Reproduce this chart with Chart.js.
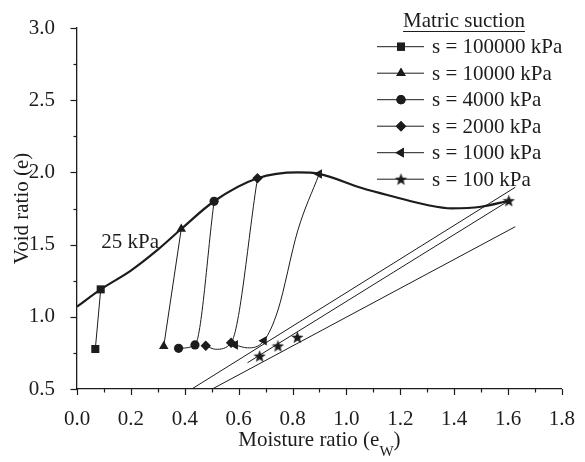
<!DOCTYPE html>
<html>
<head>
<meta charset="utf-8">
<script src="https://cdn.jsdelivr.net/npm/chart.js@4.4.1/dist/chart.umd.min.js"></script>
<style>
  body { margin: 0; background: #fff; }
</style>
</head>
<body>
<canvas id="myChart" width="585" height="462"></canvas>
<script>
// ---------- data (moisture ratio ew, void ratio e) ----------

const suctionLabels = ["s = 100000 kPa", "s = 10000 kPa", "s = 4000 kPa", "s = 2000 kPa", "s = 1000 kPa", "s = 100 kPa"];

// 25 kPa curve
const curve25Ew = [0, 0.088, 0.2, 0.3, 0.387, 0.509, 0.67, 0.82, 0.899, 1.06, 1.18, 1.30, 1.39, 1.50, 1.603];
const curve25E = [1.07, 1.19, 1.32, 1.465, 1.608, 1.80, 1.959, 2.0, 1.99, 1.89, 1.83, 1.774, 1.751, 1.762, 1.804];

// measured points
const sqEw = [0.068, 0.088];
const sqE = [0.777, 1.19];
const triEw = [0.322, 0.387];
const triE = [0.796, 1.608];
const circEw = [0.377, 0.438, 0.509];
const circE = [0.782, 0.805, 1.80];
const diaEw = [0.478, 0.572, 0.67];
const diaE = [0.80, 0.82, 1.959];
const leftEw = [0.587, 0.694, 0.899];
const leftE = [0.805, 0.834, 1.989];
const starEw = [0.678, 0.746, 0.818, 1.603];
const starE = [0.728, 0.798, 0.858, 1.804];

// connecting paths
const diaPathEw = [0.478, 0.515, 0.572, 0.67];
const diaPathE = [0.80, 0.775, 0.82, 1.959];
const leftPathEw = [0.587, 0.633, 0.694, 0.745, 0.82, 0.899];
const leftPathE = [0.805, 0.785, 0.834, 1.04, 1.60, 1.989];

// straight lines
const upperLineEw = [0.426, 1.627];
const upperLineE = [0.5, 1.897];
const midLineEw = [0.633, 1.603];
const midLineE = [0.682, 1.804];
const satLineEw = [0.502, 1.627];
const satLineE = [0.5, 1.624];

// axis ticks
const xTicks = [0, 0.2, 0.4, 0.6, 0.8, 1.0, 1.2, 1.4, 1.6, 1.8];
const yTicks = [0.5, 1.0, 1.5, 2.0, 2.5, 3.0];

// ---------- helpers ----------

const INK = "#1c1c1c";
const FONT = "'Liberation Serif', 'Times New Roman', serif";

function pts(xs, ys) {
  return xs.map((x, i) => ({ x: x, y: ys[i] }));
}

// filled five point star for the 100 kPa marker
function makeStar(size) {
  const c = document.createElement("canvas");
  c.width = size;
  c.height = size;
  const g = c.getContext("2d");
  const R = size / 2;
  const r = R * 0.42;
  g.fillStyle = INK;
  g.beginPath();
  for (let i = 0; i < 10; i++) {
    const rad = i % 2 === 0 ? R : r;
    const a = -Math.PI / 2 + (i * Math.PI) / 5;
    const px = R + rad * Math.cos(a);
    const py = R + 0.5 + rad * Math.sin(a);
    if (i === 0) g.moveTo(px, py);
    else g.lineTo(px, py);
  }
  g.closePath();
  g.fill();
  return c;
}

const starImg = makeStar(13);

const markerStyles = [
  { pointStyle: "rect", radius: 5.7, rotation: 0 },
  { pointStyle: "triangle", radius: 5.5, rotation: 0 },
  { pointStyle: "circle", radius: 4.6, rotation: 0 },
  { pointStyle: "rectRot", radius: 5.2, rotation: 0 },
  { pointStyle: "triangle", radius: 5.6, rotation: 270 },
  { pointStyle: starImg, radius: 6, rotation: 0 },
];

function pathSet(xs, ys, width, smooth) {
  const ds = {
    data: pts(xs, ys),
    showLine: true,
    borderColor: INK,
    borderWidth: width,
    pointRadius: 0,
    tension: 0,
    fill: false,
  };
  if (smooth) ds.cubicInterpolationMode = "monotone";
  return ds;
}

function markerSet(xs, ys, k) {
  const m = markerStyles[k];
  return {
    data: pts(xs, ys),
    showLine: false,
    pointStyle: m.pointStyle,
    pointRadius: m.radius,
    rotation: m.rotation,
    backgroundColor: INK,
    borderColor: INK,
    borderWidth: 0,
  };
}

const datasets = [
  pathSet(upperLineEw, upperLineE, 1, false),
  pathSet(midLineEw, midLineE, 1, false),
  pathSet(satLineEw, satLineE, 1, false),
  pathSet(sqEw, sqE, 1, false),
  pathSet(triEw, triE, 1, false),
  pathSet(circEw, circE, 1, true),
  pathSet(diaPathEw, diaPathE, 1, true),
  pathSet(leftPathEw, leftPathE, 1, true),
  pathSet(curve25Ew, curve25E, 2.2, true),
  markerSet(sqEw, sqE, 0),
  markerSet(triEw, triE, 1),
  markerSet(circEw, circE, 2),
  markerSet(diaEw, diaE, 3),
  markerSet(leftEw, leftE, 4),
  markerSet(starEw, starE, 5),
];

// ---------- plugin: ticks, x title, legend, label ----------

const decorPlugin = {
  id: "decor",
  afterDraw(chart) {
    const ctx = chart.ctx;
    const xs = chart.scales.x;
    const ys = chart.scales.y;
    const area = chart.chartArea;
    ctx.save();
    ctx.strokeStyle = INK;
    ctx.fillStyle = INK;
    ctx.lineWidth = 1.2;

    // x ticks (major + minor)
    for (let i = 0; i <= 18; i++) {
      const v = i / 10;
      const px = Math.round(xs.getPixelForValue(v)) + 0.5;
      const len = i % 2 === 0 ? 6 : 3.5;
      ctx.beginPath();
      ctx.moveTo(px, area.bottom);
      ctx.lineTo(px, area.bottom + len);
      ctx.stroke();
    }
    // y ticks
    for (let i = 0; i <= 10; i++) {
      const v = 0.5 + i * 0.25;
      const py = Math.round(ys.getPixelForValue(v)) + 0.5;
      const len = i % 2 === 0 ? 6.5 : 3.5;
      ctx.beginPath();
      ctx.moveTo(area.left, py);
      ctx.lineTo(area.left - len, py);
      ctx.stroke();
    }

    // x title with subscript
    const main = "Moisture ratio (e";
    const sub = "W";
    const close = ")";
    ctx.font = "21px " + FONT;
    const wMain = ctx.measureText(main).width;
    const wClose = ctx.measureText(close).width;
    ctx.font = "15px " + FONT;
    const wSub = ctx.measureText(sub).width;
    const cx = (area.left + area.right) / 2;
    let tx = cx - (wMain + wSub + wClose) / 2;
    ctx.textAlign = "left";
    ctx.textBaseline = "alphabetic";
    ctx.font = "21px " + FONT;
    ctx.fillText(main, tx, 446);
    tx += wMain;
    ctx.font = "15px " + FONT;
    ctx.fillText(sub, tx, 456);
    tx += wSub;
    ctx.font = "21px " + FONT;
    ctx.fillText(close, tx, 446);

    // 25 kPa label
    ctx.textBaseline = "middle";
    ctx.fillText("25 kPa", xs.getPixelForValue(0.09), ys.getPixelForValue(1.515));

    // legend
    ctx.textAlign = "center";
    ctx.textBaseline = "alphabetic";
    ctx.fillText("Matric suction", 464, 27);
    const tw = ctx.measureText("Matric suction").width;
    ctx.lineWidth = 1;
    ctx.beginPath();
    ctx.moveTo(464 - tw / 2, 31.5);
    ctx.lineTo(464 + tw / 2, 31.5);
    ctx.stroke();

    ctx.textAlign = "left";
    ctx.textBaseline = "middle";
    suctionLabels.forEach((label, k) => {
      const y = 46.7 + k * 26.5;
      ctx.beginPath();
      ctx.moveTo(377, y);
      ctx.lineTo(424, y);
      ctx.stroke();
      const m = markerStyles[k];
      Chart.helpers.drawPoint(ctx, {
        pointStyle: m.pointStyle,
        radius: m.radius,
        rotation: m.rotation,
        borderWidth: 0,
      }, 401, y);
      ctx.fill();
      ctx.fillText(label, 432, y + 1);
    });
    ctx.restore();
  },
};

// ---------- chart ----------

const chart = new Chart(document.getElementById("myChart"), {
  type: "scatter",
  data: { datasets: datasets },
  options: {
    responsive: false,
    animation: false,
    events: [],
    layout: { padding: { top: 28, right: 16, left: 0, bottom: 0 } },
    plugins: {
      legend: { display: false },
      tooltip: { enabled: false },
    },
    scales: {
      x: {
        type: "linear",
        min: 0,
        max: 1.8,
        afterFit: (s) => { s.height = 73; },
        afterBuildTicks: (s) => { s.ticks = xTicks.map((v) => ({ value: v })); },
        grid: { display: false },
        border: { display: true, color: INK, width: 1.3 },
        ticks: {
          autoSkip: false,
          maxRotation: 0,
          padding: 10,
          color: INK,
          font: { family: FONT, size: 21 },
          callback: (v) => Number(v).toFixed(1),
        },
      },
      y: {
        type: "linear",
        min: 0.5,
        max: 3.0,
        afterFit: (s) => { s.width = 77; },
        afterBuildTicks: (s) => { s.ticks = yTicks.map((v) => ({ value: v })); },
        grid: { display: false },
        border: { display: true, color: INK, width: 1.3 },
        title: {
          display: true,
          text: "Void ratio (e)",
          color: INK,
          font: { family: FONT, size: 21 },
          padding: { top: 10, bottom: 0 },
        },
        ticks: {
          autoSkip: false,
          padding: 14,
          color: INK,
          font: { family: FONT, size: 21 },
          callback: (v) => Number(v).toFixed(1),
        },
      },
    },
  },
  plugins: [decorPlugin],
});
</script>
</body>
</html>
